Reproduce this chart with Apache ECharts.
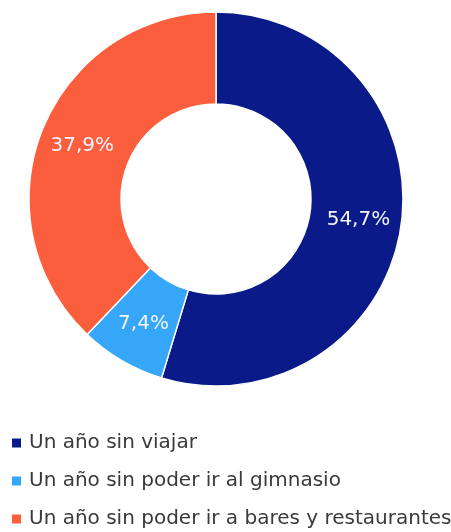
<!DOCTYPE html>
<html><head><meta charset="utf-8">
<script src="https://cdn.jsdelivr.net/npm/echarts@6/dist/echarts.min.js"></script>
<style>html,body{margin:0;padding:0;background:#fff}#c{width:451px;height:532px}</style>
</head><body><div id="c"></div>
<script>
const categories = ["Un año sin viajar", "Un año sin poder ir al gimnasio", "Un año sin poder ir a bares y restaurantes"];
const values = [54.7, 7.4, 37.9];
const colors = ["#0a1a88", "#35a6f8", "#fb5e3c"];

const chart = echarts.init(document.getElementById('c'), null, {renderer: 'canvas'});
chart.setOption({
  animation: false,
  color: colors,
  legend: {
    orient: 'vertical', left: 5, top: 428, height: 150, width: 446,
    itemWidth: 11, itemHeight: 11, itemGap: 18,
    icon: 'rect',
    textStyle: {fontFamily: 'DejaVu Sans', fontSize: 20, color: '#3a3a3a', padding: [0,0,0,2]},
    data: categories
  },
  series: [{
    type: 'pie',
    center: [216, 199],
    radius: [95, 187],
    startAngle: 90,
    clockwise: true,
    itemStyle: {borderColor: '#fff', borderWidth: 1.5},
    label: {
      position: 'inside', color: '#f4f4ff', fontFamily: 'DejaVu Sans', fontSize: 20,
      formatter: p => String(p.value).replace('.', ',') + '%'
    },
    labelLine: {show: false},
    data: categories.map((c, i) => ({name: c, value: values[i]}))
  }]
});
</script></body></html>
